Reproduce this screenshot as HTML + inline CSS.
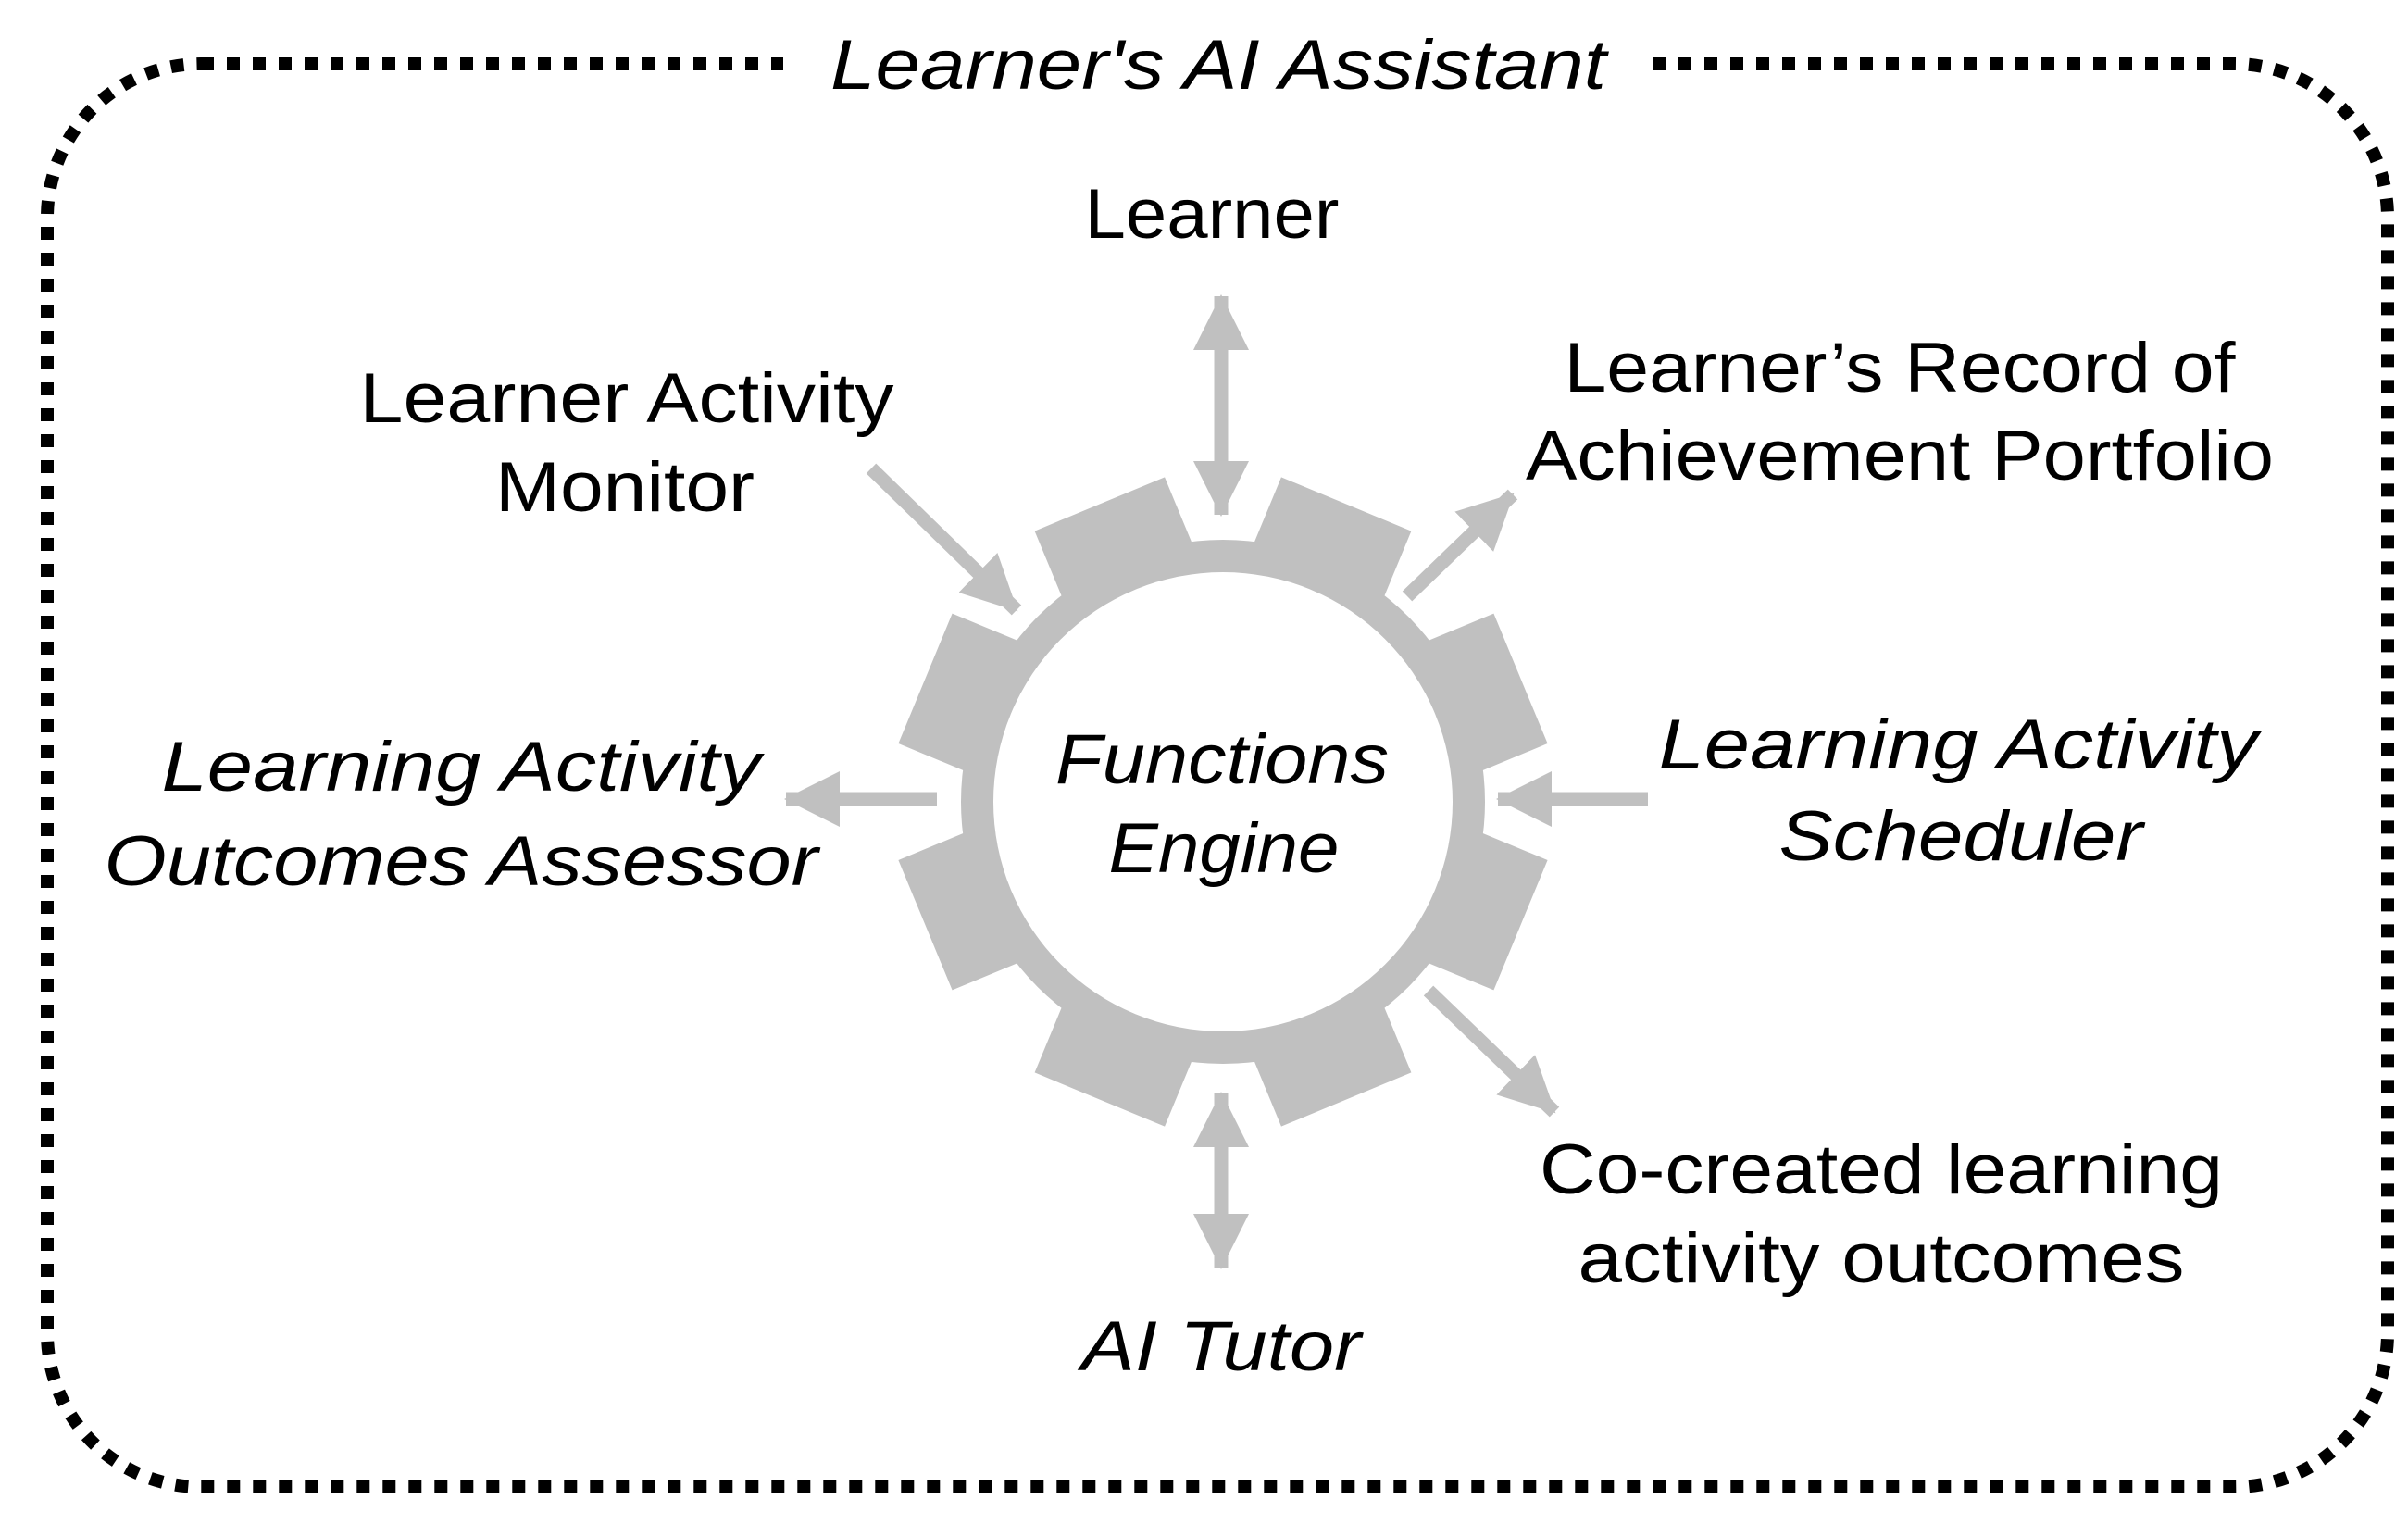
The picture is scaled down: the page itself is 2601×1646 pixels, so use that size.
<!DOCTYPE html>
<html><head><meta charset="utf-8"><style>html,body{margin:0;padding:0;background:#fff}svg{display:block}</style></head>
<body>
<svg width="2601" height="1646" viewBox="0 0 2601 1646" xmlns="http://www.w3.org/2000/svg">
<defs>
<rect id="t" x="-76" y="-348" width="152" height="120"/>
<marker id="a" markerUnits="userSpaceOnUse" markerWidth="64" markerHeight="64" refX="58" refY="30" orient="auto-start-reverse"><path d="M0,0 L60,30 L0,60 Z" fill="#c0c0c0"/></marker>
</defs>
<rect x="51" y="69" width="2528" height="1537" rx="166" ry="166" fill="none" stroke="#000" stroke-width="14" stroke-dasharray="14 14"/>
<rect x="846" y="20" width="937" height="100" fill="#fff"/>
<g transform="translate(1321,866)" fill="#c0c0c0">
<circle r="283"/>
<use href="#t" transform="rotate(22.5)"/>
<use href="#t" transform="rotate(67.5)"/>
<use href="#t" transform="rotate(112.5)"/>
<use href="#t" transform="rotate(157.5)"/>
<use href="#t" transform="rotate(202.5)"/>
<use href="#t" transform="rotate(247.5)"/>
<use href="#t" transform="rotate(292.5)"/>
<use href="#t" transform="rotate(337.5)"/>
<circle r="248" fill="#fff"/>
</g>
<g stroke="#c0c0c0" stroke-width="15" fill="none">
<line x1="1319" y1="320" x2="1319" y2="556" marker-start="url(#a)" marker-end="url(#a)"/>
<line x1="1319" y1="1181" x2="1319" y2="1369" marker-start="url(#a)" marker-end="url(#a)"/>
<line x1="941" y1="506" x2="1098" y2="659" marker-end="url(#a)"/>
<line x1="1520" y1="644" x2="1634" y2="534" marker-end="url(#a)"/>
<line x1="1780" y1="863" x2="1618" y2="863" marker-end="url(#a)"/>
<line x1="1012" y1="863" x2="849" y2="863" marker-end="url(#a)"/>
<line x1="1543" y1="1070" x2="1679" y2="1201" marker-end="url(#a)"/>
</g>
<g font-family="Liberation Sans, sans-serif" font-size="76" fill="#000" text-anchor="middle">
<text x="1316" y="96" font-style="italic" textLength="838" lengthAdjust="spacingAndGlyphs">Learner's AI Assistant</text>
<text x="1309" y="257" textLength="275" lengthAdjust="spacingAndGlyphs">Learner</text>
<text x="677" y="456" textLength="577" lengthAdjust="spacingAndGlyphs">Learner Activity</text>
<text x="675" y="552" textLength="280" lengthAdjust="spacingAndGlyphs">Monitor</text>
<text x="2052" y="423" textLength="725" lengthAdjust="spacingAndGlyphs">Learner’s Record of</text>
<text x="2052" y="518" textLength="808" lengthAdjust="spacingAndGlyphs">Achievement Portfolio</text>
<text x="498" y="854" font-style="italic" textLength="647" lengthAdjust="spacingAndGlyphs">Learning Activity</text>
<text x="498" y="956" font-style="italic" textLength="771" lengthAdjust="spacingAndGlyphs">Outcomes Assessor</text>
<text x="2115" y="830" font-style="italic" textLength="647" lengthAdjust="spacingAndGlyphs">Learning Activity</text>
<text x="2118" y="929" font-style="italic" textLength="393" lengthAdjust="spacingAndGlyphs">Scheduler</text>
<text x="1320" y="846" font-style="italic" textLength="360" lengthAdjust="spacingAndGlyphs">Functions</text>
<text x="1322" y="942" font-style="italic" textLength="249" lengthAdjust="spacingAndGlyphs">Engine</text>
<text x="2032" y="1289" textLength="738" lengthAdjust="spacingAndGlyphs">Co-created learning</text>
<text x="2032" y="1385" textLength="655" lengthAdjust="spacingAndGlyphs">activity outcomes</text>
<text x="1319" y="1480" font-style="italic" textLength="302" lengthAdjust="spacingAndGlyphs">AI Tutor</text>
</g>
</svg>
</body></html>
